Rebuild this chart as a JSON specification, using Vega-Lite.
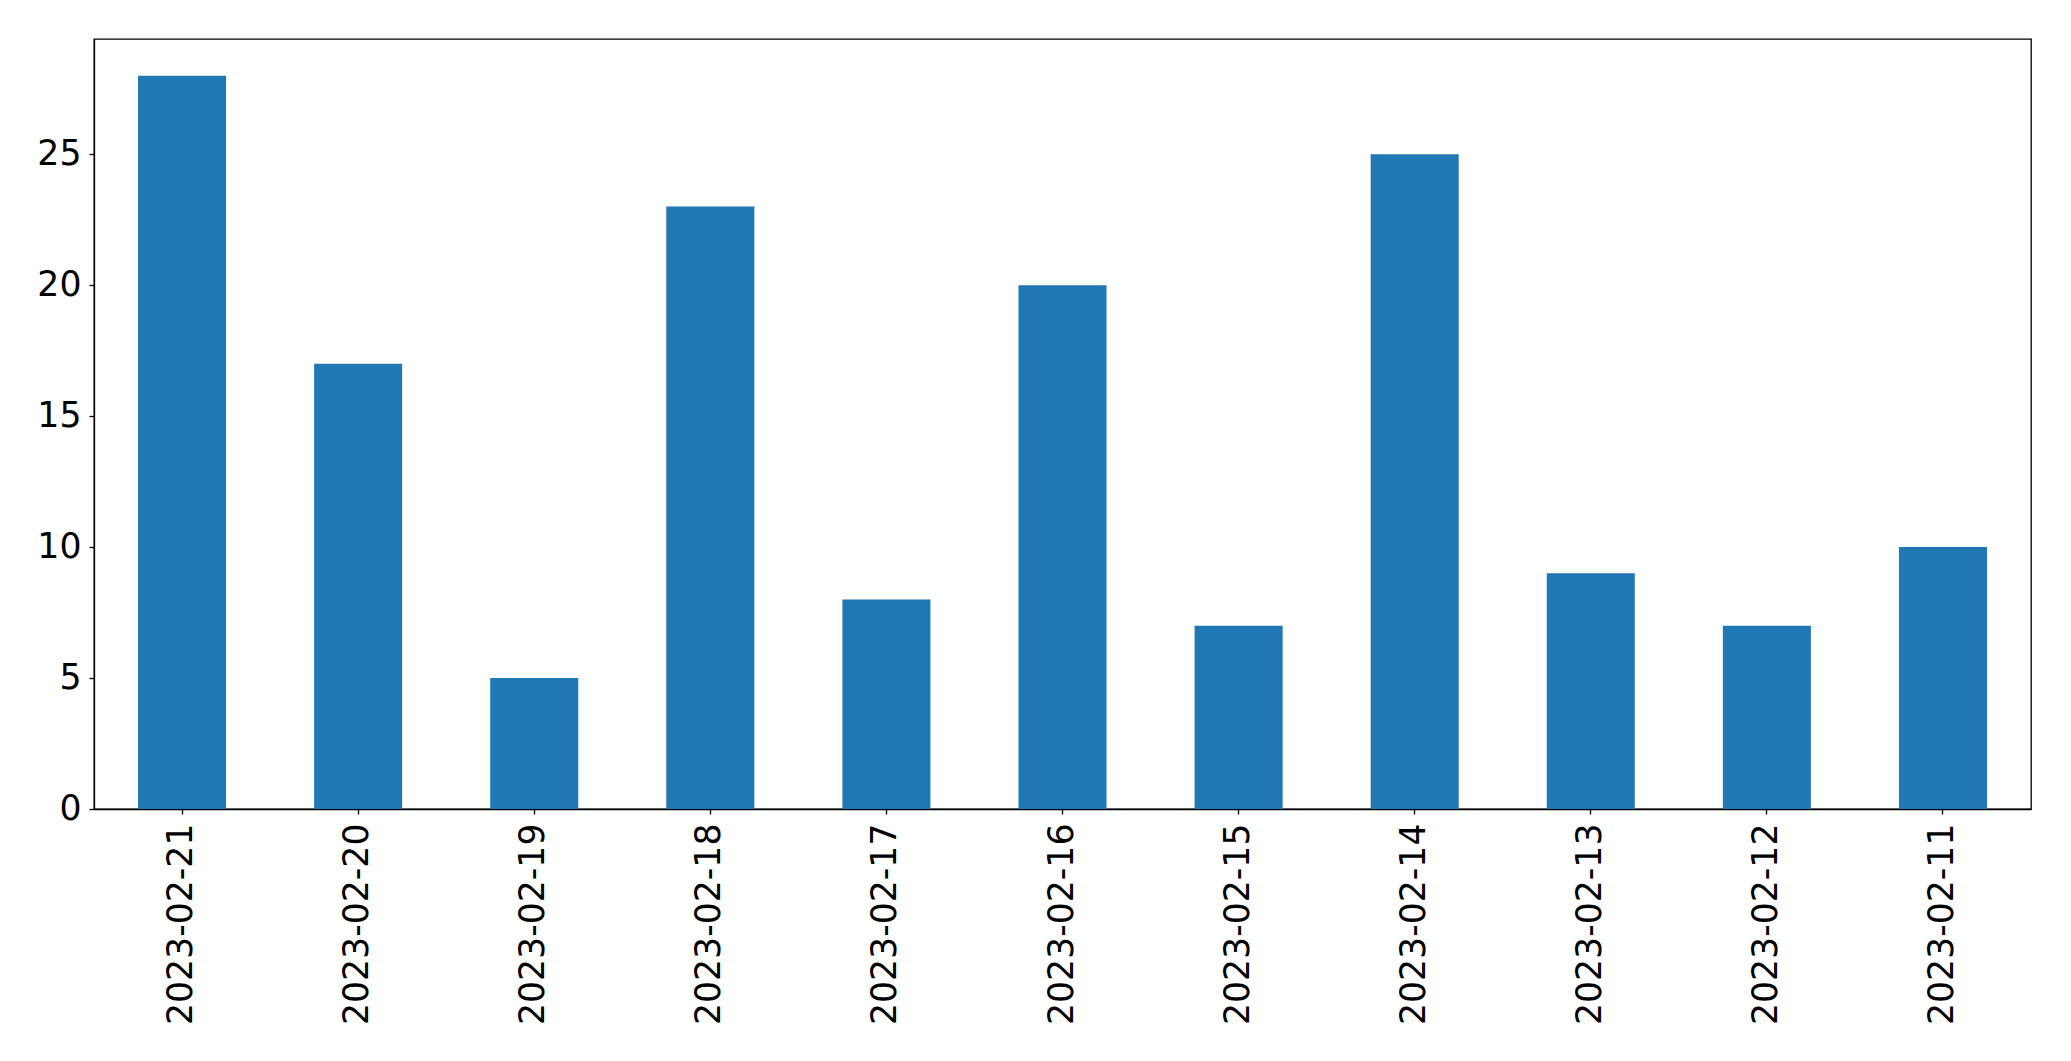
{
  "$schema": "https://vega.github.io/schema/vega-lite/v6.json",
  "autosize": "none",
  "padding": {"left": 94, "top": 39, "right": 40, "bottom": 252},
  "width": 1937,
  "height": 770,
  "background": "white",
  "config": {
    "view": {"stroke": "black", "strokeWidth": 1.3},
    "font": "DejaVu Sans",
    "axis": {
      "labelFont": "DejaVu Sans",
      "labelFontSize": 34.7,
      "labelColor": "black",
      "labelLimit": 0,
      "tickColor": "black",
      "domainColor": "black",
      "tickSize": 5,
      "tickWidth": 1.3,
      "domainWidth": 1.3,
      "grid": false,
      "title": null
    }
  },
  "data": {
    "values": [
      {"date": "2023-02-21", "count": 28},
      {"date": "2023-02-20", "count": 17},
      {"date": "2023-02-19", "count": 5},
      {"date": "2023-02-18", "count": 23},
      {"date": "2023-02-17", "count": 8},
      {"date": "2023-02-16", "count": 20},
      {"date": "2023-02-15", "count": 7},
      {"date": "2023-02-14", "count": 25},
      {"date": "2023-02-13", "count": 9},
      {"date": "2023-02-12", "count": 7},
      {"date": "2023-02-11", "count": 10}
    ]
  },
  "mark": {"type": "bar", "color": "#1f77b4"},
  "encoding": {
    "x": {
      "field": "date",
      "type": "nominal",
      "sort": null,
      "scale": {"paddingInner": 0.5, "paddingOuter": 0.25},
      "axis": {"labelAngle": -90, "labelPadding": 9, "labelLimit": 0, "title": null}
    },
    "y": {
      "field": "count",
      "type": "quantitative",
      "scale": {"domain": [0, 29.4], "nice": false, "zero": true},
      "axis": {"values": [0, 5, 10, 15, 20, 25], "labelPadding": 8, "title": null}
    }
  }
}
